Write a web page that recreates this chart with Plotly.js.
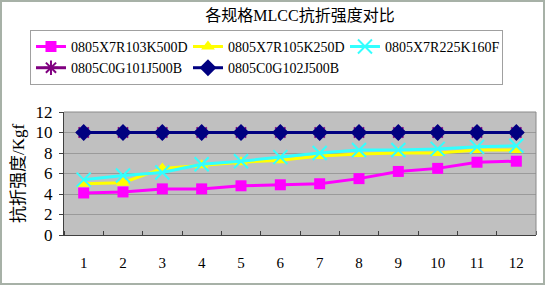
<!DOCTYPE html>
<html><head><meta charset="utf-8">
<script src="https://cdn.plot.ly/plotly-3.0.1.min.js"></script>
<style>
html,body{margin:0;padding:0;background:#fff;}
#wrap{position:relative;width:545px;height:285px;}
#chart{position:absolute;left:0;top:0;width:545px;height:285px;}
#frame{position:absolute;left:0;top:0;width:541px;height:281px;border:2px solid #a7b1a7;pointer-events:none;}
</style></head>
<body><div id="wrap"><div id="chart"></div><div id="frame"></div></div>
<script>
const categories = [1,2,3,4,5,6,7,8,9,10,11,12];
const seriesNames = ["0805X7R103K500D","0805X7R105K250D","0805X7R225K160F","0805C0G101J500B","0805C0G102J500B"];
const s103K500D = [4.1,4.2,4.5,4.5,4.8,4.9,5.0,5.5,6.2,6.5,7.1,7.2];
const s105K250D = [5.0,5.1,6.5,6.8,7.1,7.3,7.7,7.9,8.0,8.0,8.3,8.3];
const s225K160F = [5.4,5.8,6.1,6.9,7.2,7.6,8.0,8.3,8.3,8.4,8.6,8.7];
const s101J500B = [10,10,10,10,10,10,10,10,10,10,10,10];
const s102J500B = [10,10,10,10,10,10,10,10,10,10,10,10];
const yTicks = [0,2,4,6,8,10,12];

const serif = 'Liberation Serif, DejaVu Serif, Noto Sans CJK SC, serif';
const styles = [
  {color:'#ff00ff', symbol:'square', size:11, lc:'#ff00ff'},
  {color:'#ffff00', symbol:'triangle-up', size:12, lc:'#ffff00'},
  {color:'#33ffff', symbol:'x-thin-open', size:14, lc:'#33ffff'},
  {color:'#800080', symbol:'asterisk-open', size:12, lc:'#800080'},
  {color:'#000080', symbol:'diamond', size:13, lc:'#000080'}
];
const data = [s103K500D, s105K250D, s225K160F, s101J500B, s102J500B];
const traces = data.map((ys,i)=>({
  x: categories, y: ys, name: seriesNames[i], type:'scatter', mode:'lines+markers',
  line:{color:styles[i].lc, width:3},
  marker:{color:styles[i].color, symbol:styles[i].symbol, size:styles[i].size,
          line:{color:styles[i].color, width: (styles[i].symbol.indexOf('open')>=0?2:0)}}
}));

const layout = {
  width:545, height:285,
  margin:{l:64, r:9, t:112, b:50},
  paper_bgcolor:'#ffffff', plot_bgcolor:'#c0c0c0',
  title:{text:'各规格MLCC抗折强度对比', x:0.5, xref:'paper', y:0.945, yref:'container', yanchor:'middle',
         font:{family:serif, size:16, color:'#000'}},
  showlegend:true,
  legend:{orientation:'h', xref:'container', yref:'container', x:0.055, y:0.895, xanchor:'left', yanchor:'top',
          bordercolor:'#a0a0a0', borderwidth:1, bgcolor:'#ffffff',
          entrywidth:112, entrywidthmode:'pixels', itemwidth:30,
          font:{family:serif, size:14, color:'#000'}, tracegroupgap:0},
  xaxis:{range:[0.5,12.5], tickvals:categories, ticktext:categories.map(String), ticks:'',
         showgrid:false, zeroline:false, showline:true, linecolor:'#404040', linewidth:1,
         ticklabelstandoff:14, tickfont:{family:serif, size:15, color:'#000'},
         minor:{tick0:0.5, dtick:1, ticks:'inside', ticklen:4, tickcolor:'#404040', showgrid:false}},
  yaxis:{range:[0,12], tickvals:yTicks, ticks:'outside', ticklen:4, tickcolor:'#404040',
         showgrid:true, gridcolor:'#9a9a9a', gridwidth:1, zeroline:false,
         showline:true, linecolor:'#404040', linewidth:1,
         tickfont:{family:serif, size:17, color:'#000'}, ticklabelstandoff:3,
         title:{text:'抗折强度/Kgf', standoff:6, font:{family:serif, size:17, color:'#000'}}},
  shapes:[
    {type:'line', xref:'paper', yref:'paper', x0:0, x1:1, y0:1, y1:1, line:{color:'#8a8a8a', width:1}},
    {type:'line', xref:'paper', yref:'paper', x0:1, x1:1, y0:0, y1:1, line:{color:'#8a8a8a', width:1}}
  ]
};
Plotly.newPlot('chart', traces, layout, {displayModeBar:false, staticPlot:true});
</script></body></html>
